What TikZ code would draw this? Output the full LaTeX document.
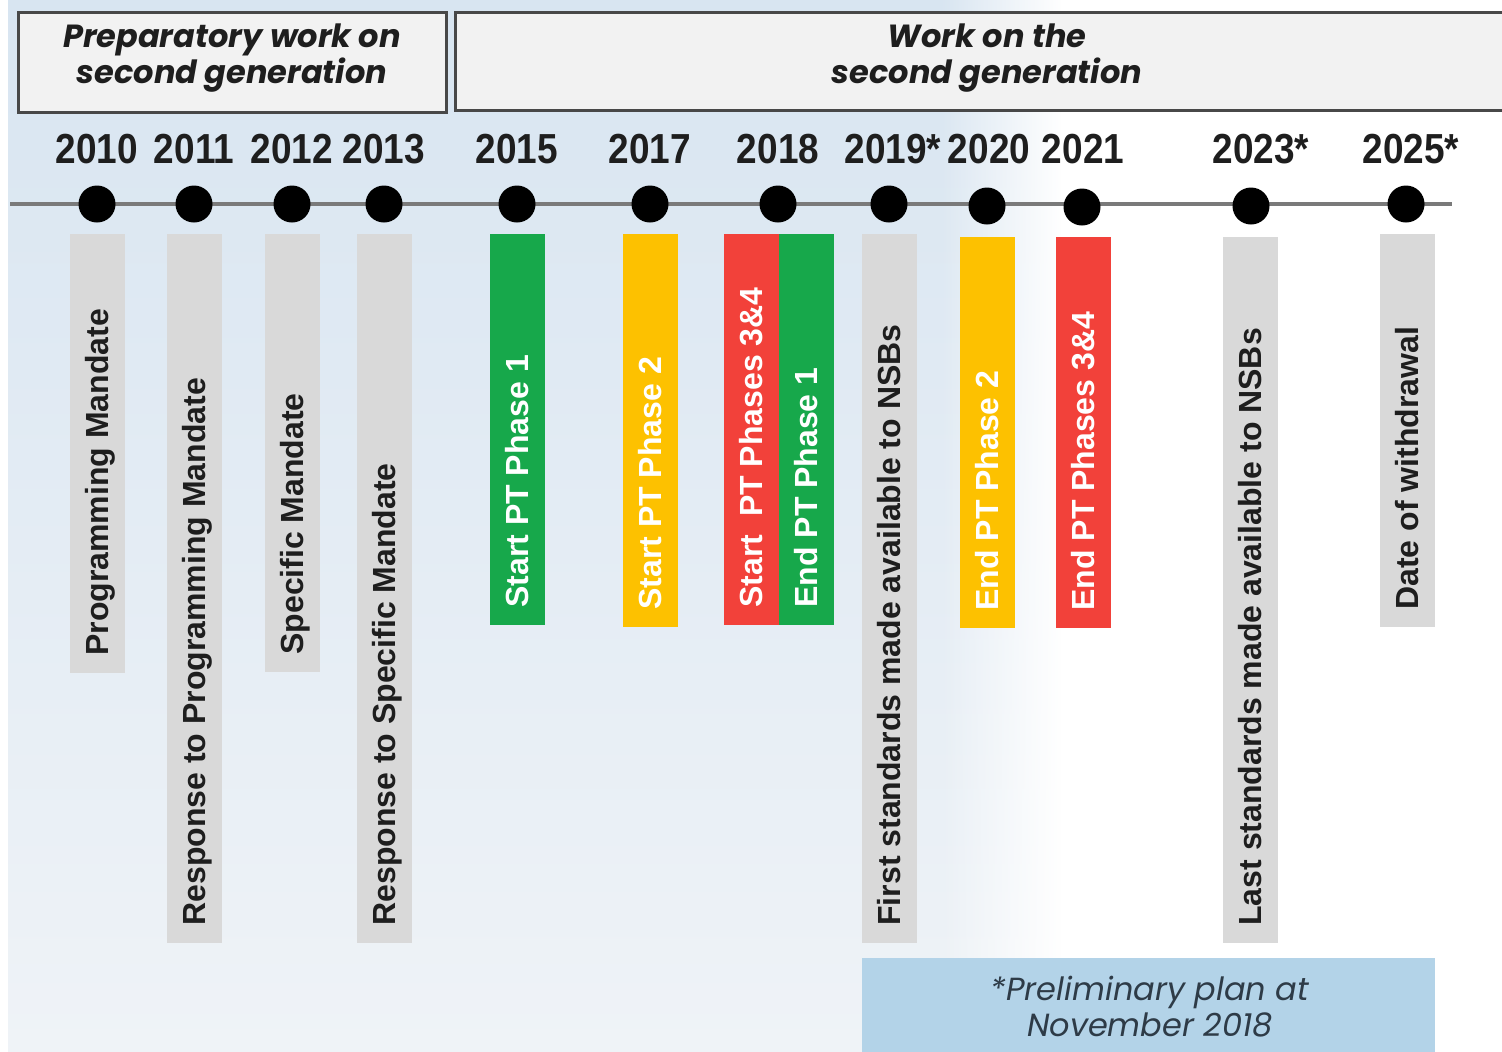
\documentclass[tikz,border=0pt]{standalone}
\usepackage{fontspec}
\setmainfont{Liberation Sans}
\newfontfamily\popfont{Poppins}
\usetikzlibrary{fadings}
\definecolor{barGray}{HTML}{D9D9D9}
\definecolor{pGreen}{HTML}{17A84B}
\definecolor{pRed}{HTML}{F2413A}
\definecolor{pYellow}{HTML}{FDC100}
\definecolor{boxFill}{HTML}{F2F2F2}
\definecolor{boxLine}{HTML}{484848}
\definecolor{noteBlue}{HTML}{B3D3E8}
\definecolor{bgTop}{HTML}{D8E5F1}
\definecolor{bgBot}{HTML}{EFF3F7}
\definecolor{lineGray}{HTML}{7A7A7A}
\definecolor{noteText}{HTML}{2E3B47}
\definecolor{labText}{HTML}{1E1E1E}
\newcommand\tlbar[7]{%
  \fill[#4] (#1-27.5,#2) rectangle (#1+27.5,#3);
  \node[vlab,text=#5] (#6) at (#1+11.5,#3-17) {#7};}
\begin{document}
\begin{tikzpicture}[x=0.5pt,y=-0.5pt,
  vlab/.style={rotate=90,anchor=base west,inner sep=0pt,font=\fontsize{16}{16}\selectfont\bfseries},
  yearlab/.style={inner sep=0pt,xscale=0.88,font=\fontsize{21}{21}\selectfont\bfseries,text=labText},
  dot/.style={circle,fill=black,inner sep=0pt,minimum size=18.5pt},
  headbox/.style={draw=boxLine,fill=boxFill,line width=1.5pt},
  headtxt/.style={align=center,inner sep=0pt,font=\popfont\fontsize{16}{18}\selectfont\bfseries\itshape,text=labText}]
\useasboundingbox (0,0) rectangle (1502,1051);
% background
\fill[white] (0,0) rectangle (1502,1051);
\shade[top color=bgTop,bottom color=bgBot] (8,0) rectangle (1060,1051);
\fill[white,path fading=west] (940,0) rectangle (1062,1051);
% header boxes
\draw[headbox] (18,12) rectangle (446,112);
\draw[headbox] (455,12) rectangle (1510,110);
\node[headtxt] (h1) at (232,58) {Preparatory work on\\second generation};
\node[headtxt] (h2) at (987,58) {Work on the\\second generation};
% bars
\tlbar{97}{234}{673}{barGray}{labText}{l2010}{Programming Mandate}
\tlbar{194}{234}{943}{barGray}{labText}{l2011}{Response to Programming Mandate}
\tlbar{292}{234}{672}{barGray}{labText}{l2012}{Specific Mandate}
\tlbar{384}{234}{943}{barGray}{labText}{l2013}{Response to Specific Mandate}
\tlbar{517}{234}{625}{pGreen}{white}{l2015}{Start PT Phase 1}
\tlbar{650}{234}{627}{pYellow}{white}{l2017}{Start PT Phase 2}
\tlbar{751}{234}{625}{pRed}{white}{l2018a}{Start\ \ PT Phases 3\&4}
\tlbar{806}{234}{625}{pGreen}{white}{l2018b}{End PT Phase 1}
\tlbar{889}{234}{943}{barGray}{labText}{l2019}{First standards made available to NSBs}
\tlbar{987}{237}{628}{pYellow}{white}{l2020}{End PT Phase 2}
\tlbar{1083}{237}{628}{pRed}{white}{l2021}{End PT Phases 3\&4}
\tlbar{1250}{237}{943}{barGray}{labText}{l2023}{Last standards made available to NSBs}
\tlbar{1407}{234}{627}{barGray}{labText}{l2025}{Date of withdrawal}
% timeline
\coordinate (ls) at (10,204);
\coordinate (le) at (1452,204);
\draw[lineGray,line width=2pt] (ls) -- (le);
\foreach \n/\x/\y in {2010/97/204,2011/194/204,2012/292/204,2013/384/204,2015/517/204,2017/650/204,2018/778/204,2019/889/204,2020/987/206,2021/1082/207,2023/1251/206,2025/1406/204}
  \node[dot] (d\n) at (\x,\y) {};
% years
\foreach \n/\x/\t in {2010/97/2010,2011/194/2011,2012/292/2012,2013/384/2013,2015/517/2015,2017/650/2017,2018/778/2018,2019/893/2019*,2020/989/2020,2021/1083/2021,2023/1261/2023*,2025/1411/2025*}
  \node[yearlab] (y\n) at (\x,149) {\t};
% note box
\fill[noteBlue] (862,958) rectangle (1435,1060);
\node[align=center,inner sep=0pt,text=noteText,font=\popfont\fontsize{16}{18}\selectfont\itshape] (note) at (1150,1007) {*Preliminary plan at\\November 2018};
\end{tikzpicture}
\end{document}
